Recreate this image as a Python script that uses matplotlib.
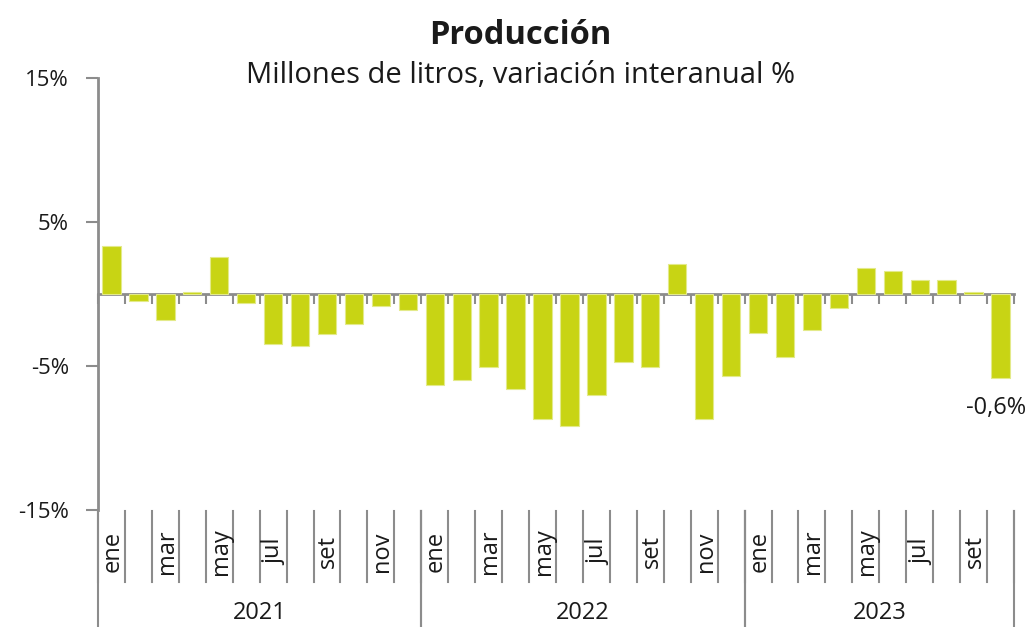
import numpy as np
import matplotlib
matplotlib.use("Agg")
from matplotlib import pyplot as plt
import matplotlib.transforms as mtransforms

plt.rcParams['font.family'] = ['Open Sans', 'DejaVu Sans']

# datos: variacion interanual %, ene 2021 - oct 2023
months = ['ene', 'feb', 'mar', 'abr', 'may', 'jun', 'jul', 'ago', 'set', 'oct', 'nov', 'dic']
years = ['2021', '2022', '2023']
months_per_year = [12, 12, 10]
values = [3.3, -0.5, -1.8, 0.15, 2.6, -0.6, -3.5, -3.6, -2.8, -2.1, -0.8, -1.1,
          -6.3, -6.0, -5.1, -6.6, -8.7, -9.2, -7.0, -4.7, -5.1, 2.1, -8.7, -5.7,
          -2.7, -4.4, -2.5, -1.0, 1.8, 1.6, 1.0, 1.0, 0.15, -5.8]
yticks = [-15, -5, 5, 15]
ytick_labels = ['-15%', '-5%', '5%', '15%']
last_label = '-0,6%'

bar_color = '#C8D414'
grey = '#8C8C8C'
txt = '#1a1a1a'

labels = []
for n in months_per_year:
    labels += months[:n]
x = np.arange(len(values))

fig = plt.figure(figsize=(10.35, 6.27), dpi=100)
ax = fig.add_axes([0.0947, 0.1866, 0.885, 0.689])

ax.bar(x, values, width=0.68, color=bar_color, edgecolor='#E3EA8A', linewidth=0.8, zorder=3)

ax.set_xlim(-0.5, len(values) - 0.5)
ax.set_ylim(-15, 15)
ax.set_yticks(yticks)
ax.set_yticklabels(ytick_labels, fontsize=16, color=txt)
ax.tick_params(axis='y', direction='out', length=9, width=1.5, color=grey, pad=12)

# eje de categorias en cero
ax.spines['bottom'].set_position(('data', 0))
ax.spines['bottom'].set_color(grey)
ax.spines['bottom'].set_linewidth(2)
ax.spines['left'].set_color(grey)
ax.spines['left'].set_linewidth(2)
ax.spines['top'].set_visible(False)
ax.spines['right'].set_visible(False)
ax.set_xticks(np.arange(len(values) + 1) - 0.5)
ax.set_xticklabels([])
ax.tick_params(axis='x', direction='out', length=7, width=1.5, color=grey)

trans = mtransforms.blended_transform_factory(ax.transData, ax.transAxes)

# separadores de meses y etiquetas
for b in range(len(values) + 1):
    ax.plot([b - 0.5, b - 0.5], [-0.002, -0.167], transform=trans, color=grey,
            lw=1.5, clip_on=False)
for i, lab in enumerate(labels):
    if i % 12 % 2 == 0:
        ax.text(i + 0.05, -0.097, lab, transform=trans, rotation=90, ha='center',
                va='center', fontsize=17, color=txt)

# separadores de años
start = 0
for y, n in zip(years, months_per_year):
    for b in (start, start + n):
        ax.plot([b - 0.5, b - 0.5], [-0.002, -0.28], transform=trans, color=grey,
                lw=1.5, clip_on=False)
    ax.text(start + n / 2 - 0.5, -0.238, y, transform=trans, ha='center', va='center',
            fontsize=17, color=txt)
    start += n

ax.text(x[-1] + 0.95, -7.9, last_label, ha='right', va='center', fontsize=17, color=txt)

fig.text(0.503, 0.943, 'Producción', ha='center', va='center', fontsize=23.5,
         fontweight='bold', color=txt)
fig.text(0.503, 0.880, 'Millones de litros, variación interanual %', ha='center',
         va='center', fontsize=21, color=txt)

fig.savefig('out.png', dpi=100)
